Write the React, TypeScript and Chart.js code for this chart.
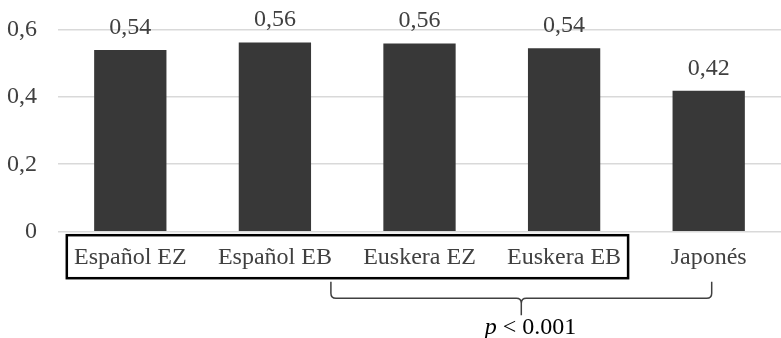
import React, { useEffect, useRef } from "react";
import { Chart, registerables } from "chart.js";

Chart.register(...registerables);

const categories = ["Español EZ", "Español EB", "Euskera EZ", "Euskera EB", "Japonés"];
const values = [0.539, 0.561, 0.558, 0.544, 0.418];
const yTicks = [0, 0.2, 0.4, 0.6];
const significanceLabel = "< 0.001";

const FONT = "'Liberation Serif', 'Times New Roman', serif";
const TEXT = "#404040";

const fmt = (v: number) => v.toFixed(2).replace(".", ",");

const overlayPlugin = {
  id: "overlay",
  afterDatasetsDraw(chart: any) {
    const ctx = chart.ctx;
    const meta = chart.getDatasetMeta(0);
    ctx.save();
    ctx.fillStyle = TEXT;
    ctx.font = `24px ${FONT}`;
    ctx.textAlign = "center";
    ctx.textBaseline = "alphabetic";
    meta.data.forEach((bar: any, i: number) => {
      ctx.fillText(fmt(values[i]), bar.x, bar.y - 16);
    });
    ctx.restore();
  },
  afterDraw(chart: any) {
    const ctx = chart.ctx;
    const xs = chart.scales.x;
    const area = chart.chartArea;
    const c0 = xs.getPixelForValue(0);
    const c1 = xs.getPixelForValue(1);
    const c3 = xs.getPixelForValue(3);
    const c4 = xs.getPixelForValue(4);
    const b = area.bottom;
    ctx.save();
    // box around first four labels
    ctx.strokeStyle = "#000";
    ctx.lineWidth = 2.5;
    const bl = c0 - 63.5;
    const br = c3 + 64;
    ctx.strokeRect(bl, b + 3.5, br - bl, 43);
    // brace
    const L = c1 + 56;
    const R = c4 + 3;
    const M = (L + R) / 2;
    const yTop = b + 50;
    const yLine = b + 66.5;
    ctx.strokeStyle = "#404040";
    ctx.lineWidth = 1.5;
    ctx.beginPath();
    ctx.moveTo(L, yTop);
    ctx.lineTo(L, yLine - 5);
    ctx.quadraticCurveTo(L, yLine, L + 5, yLine);
    ctx.lineTo(M - 5, yLine);
    ctx.quadraticCurveTo(M, yLine, M, yLine + 5);
    ctx.lineTo(M, yLine + 17);
    ctx.moveTo(M, yLine + 5);
    ctx.quadraticCurveTo(M, yLine, M + 5, yLine);
    ctx.lineTo(R - 5, yLine);
    ctx.quadraticCurveTo(R, yLine, R, yLine - 5);
    ctx.lineTo(R, yTop);
    ctx.stroke();
    // p < 0.001
    ctx.fillStyle = "#000";
    ctx.textBaseline = "alphabetic";
    ctx.textAlign = "left";
    ctx.font = `italic 24px ${FONT}`;
    const px = M - 36.5;
    const py = yLine + 36;
    ctx.fillText("p", px, py);
    const pw = ctx.measureText("p ").width;
    ctx.font = `24px ${FONT}`;
    ctx.fillText(significanceLabel, px + pw, py);
    ctx.restore();
  },
};

export default function App() {
  const ref = useRef<HTMLCanvasElement>(null);
  useEffect(() => {
    document.body.style.margin = "0";
    const chart = new Chart(ref.current!, {
      type: "bar",
      data: {
        labels: categories,
        datasets: [
          {
            data: values,
            backgroundColor: "#383838",
            barPercentage: 0.5,
            categoryPercentage: 1,
          },
        ],
      },
      options: {
        animation: false,
        responsive: false,
        layout: { padding: { left: 7, top: 29.3, right: 0, bottom: 53.5 } },
        plugins: { legend: { display: false }, tooltip: { enabled: false } },
        scales: {
          x: {
            grid: { display: false, drawTicks: false },
            border: { display: false },
            ticks: { color: TEXT, font: { family: FONT, size: 24 }, padding: 12, maxRotation: 0 },
            afterFit: (s: any) => {
              s.paddingLeft = 0;
              s.paddingRight = 0;
            },
          },
          y: {
            min: 0,
            max: 0.6,
            afterBuildTicks: (s: any) => {
              s.ticks = yTicks.map((v) => ({ value: v }));
            },
            afterFit: (s: any) => {
              s.width = 51;
              s.paddingTop = 0;
              s.paddingBottom = 0;
            },
            grid: { color: "#d9d9d9", lineWidth: 1.5, drawTicks: false },
            border: { display: false },
            ticks: {
              color: TEXT,
              font: { family: FONT, size: 24 },
              padding: 21,
              callback: (v: any) => (v === 0 ? "0" : Number(v).toFixed(1).replace(".", ",")),
            },
          },
        },
      },
      plugins: [overlayPlugin],
    });
    return () => chart.destroy();
  }, []);
  return (
    <div style={{ width: 781, height: 338 }}>
      <canvas ref={ref} width={781} height={338} />
    </div>
  );
}
